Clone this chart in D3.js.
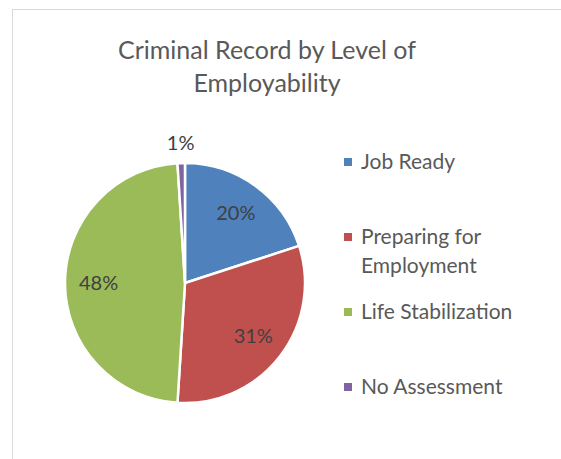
<!DOCTYPE html>
<html>
<head>
<meta charset="utf-8">
<script src="https://cdn.jsdelivr.net/npm/d3@7"></script>
<style>
  body { margin: 0; background: #fff; }
  text { font-family: Lato, "Open Sans", sans-serif; }
</style>
</head>
<body>
<div id="chart"></div>
<script>
// Chart data
var categories = ["Job Ready", "Preparing for Employment", "Life Stabilization", "No Assessment"];
var legendLines = [["Job Ready"], ["Preparing for", "Employment"], ["Life Stabilization"], ["No Assessment"]];
var shares = [20, 31, 48, 1];
var colors = ["#4F81BD", "#C0504D", "#9BBB59", "#8064A2"];
var titleLines = ["Criminal Record by Level of", "Employability"];

var svgWidth = 561;
var svgHeight = 459;

var svg = d3.select("#chart")
    .append("svg")
    .attr("width", svgWidth)
    .attr("height", svgHeight);

// chart area border
svg.append("rect")
    .attr("x", 12.5)
    .attr("y", 9.5)
    .attr("width", 600)
    .attr("height", 500)
    .attr("fill", "#fff")
    .attr("stroke", "#D9D9D9");

// Title
svg.append("g").selectAll("text")
    .data(titleLines)
    .enter()
    .append("text")
    .attr("x", 267)
    .attr("y", (d, i) => 59 + i * 33)
    .attr("text-anchor", "middle")
    .attr("font-size", "25px")
    .attr("fill", "#595959")
    .text(d => d);

// Pie
var cx = 185, cy = 283, radius = 120;

var pie = d3.pie().sort(null).value(d => d);
var arcs = pie(shares);

var arc = d3.arc().innerRadius(0).outerRadius(radius);

var pieGroup = svg.append("g")
    .attr("transform", `translate(${cx}, ${cy})`);

pieGroup.selectAll("path")
    .data(arcs)
    .enter()
    .append("path")
    .attr("d", arc)
    .attr("fill", (d, i) => colors[i])
    .attr("stroke", "#fff")
    .attr("stroke-width", 2.5)
    .attr("stroke-linejoin", "round");

// Data labels (inside except for the tiny slice)
var labelArc = d3.arc().innerRadius(radius * 0.72).outerRadius(radius * 0.72);
var outsideArc = d3.arc().innerRadius(radius * 1.17).outerRadius(radius * 1.17);

pieGroup.selectAll("text")
    .data(arcs)
    .enter()
    .append("text")
    .attr("transform", function(d) {
        var p = d.data < 5 ? outsideArc.centroid(d) : labelArc.centroid(d);
        return `translate(${p[0]}, ${p[1]})`;
    })
    .attr("text-anchor", "middle")
    .attr("dy", "0.35em")
    .attr("font-size", "20px")
    .attr("fill", "#404040")
    .text(d => d.data + "%");

// Legend
var legendY = [162, 237, 312, 387];
var legend = svg.append("g").selectAll("g")
    .data(categories)
    .enter()
    .append("g")
    .attr("transform", (d, i) => `translate(344, ${legendY[i]})`);

legend.append("rect")
    .attr("x", 0)
    .attr("y", -4)
    .attr("width", 8)
    .attr("height", 8)
    .attr("fill", (d, i) => colors[i]);

legend.append("text")
    .attr("x", 17)
    .attr("font-size", "21px")
    .attr("fill", "#595959")
    .each(function(d, i) {
        var t = d3.select(this);
        legendLines[i].forEach(function(line, j) {
            t.append("tspan")
                .attr("x", 17)
                .attr("y", j * 29)
                .attr("dy", "0.35em")
                .text(line);
        });
    });
</script>
</body>
</html>
